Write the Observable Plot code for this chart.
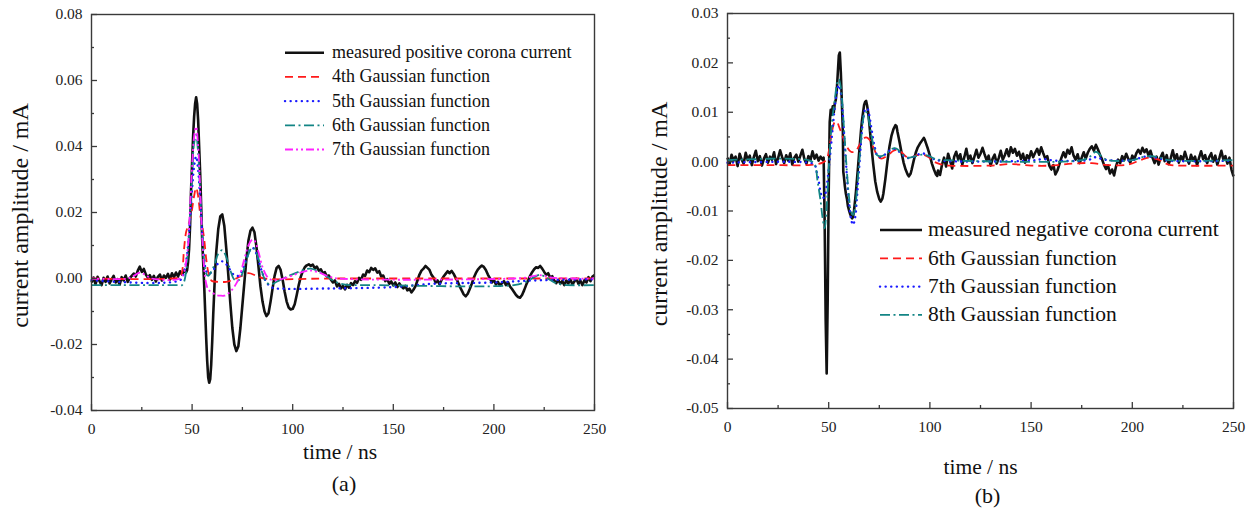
<!DOCTYPE html>
<html><head><meta charset="utf-8">
<script src="https://cdn.jsdelivr.net/npm/d3@7"></script>
<script src="https://cdn.jsdelivr.net/npm/@observablehq/plot@0.6"></script>
<style>
body{margin:0;background:#fff;}
#wrap{position:relative;width:1255px;height:510px;overflow:hidden;background:#fff;}
#wrap > svg, #wrap > figure{position:absolute;top:0;margin:0;overflow:visible;}
</style></head><body><div id="wrap"></div>
<script>
// ---------- DATA (current values in µA, time in ns) ----------
const xTicks = [0, 50, 100, 150, 200, 250];
const xMinor = [25, 75, 125, 175, 225];
const yTicksA = [-0.04, -0.02, 0.00, 0.02, 0.04, 0.06, 0.08];
const yMinorA = [-0.03, -0.01, 0.01, 0.03, 0.05, 0.07];
const yTicksB = [-0.05, -0.04, -0.03, -0.02, -0.01, 0.00, 0.01, 0.02, 0.03];
const yMinorB = [-0.045, -0.035, -0.025, -0.015, -0.005, 0.005, 0.015, 0.025];

const legendA = ["measured positive corona current", "4th Gaussian function", "5th Gaussian function", "6th Gaussian function", "7th Gaussian function"];
const legendB = ["measured negative corona current", "6th Gaussian function", "7th Gaussian function", "8th Gaussian function"];

const posMeasured = [[0,-1.2],[1,0.3],[2,-1.8],[3,0.5],[4,-0.8],[5,-2.0],[6,0.2],[7,-1.0],[8,0.6],[9,-1.5],[10,-0.3],[11,0.8],[12,-1.2],[13,-0.2],[14,-1.9],[15,0.4],[16,-0.6],[17,0.9],[18,-1.0],[19,0.1],[20,0.8],[21,1.5],[22,0.6],[23,2.4],[24,3.6],[25,2.0],[26,2.9],[27,1.2],[28,0.3],[29,1.0],[30,-0.4],[31,0.8],[32,-0.9],[33,0.5],[34,1.2],[35,-0.6],[36,0.9],[37,0.2],[38,1.4],[39,-0.3],[40,1.6],[41,0.4],[42,1.8],[43,0.6],[44,2.2],[45,1.2],[46,2.4],[47,1.8],[47.5,2.5],[48,5],[48.5,9],[49,16],[49.5,27],[50,35],[50.5,43],[51,49],[51.5,53],[52,54.9],[52.5,53],[53,48],[53.5,40],[54,32],[54.5,22],[55,12],[55.5,5],[56,-2],[56.5,-10],[57,-18],[57.5,-25],[58,-30],[58.5,-31.6],[59,-30.5],[59.5,-26],[60,-19],[60.5,-11],[61,-4],[61.5,3],[62,8],[63,15],[64,18.8],[65,19.4],[66,16],[67,9],[68,1],[69,-7.5],[70,-15],[71,-20],[72,-22],[73,-20.5],[74,-15],[75,-8],[76,-1],[77,6],[78,11.5],[79,14.5],[80,15.4],[81,14],[82,9.5],[83,3.5],[84,-2.5],[85,-7],[86,-10],[87,-11.4],[88,-10.5],[89,-7],[90,-3],[91,0.8],[92,3.2],[93,3.8],[94,2.6],[95,-0.4],[96,-4],[97,-7],[98,-8.8],[99,-9.4],[100,-9.2],[101,-7.8],[102,-5],[103,-2],[104,0.5],[105,2.2],[106,3.4],[107,4.0],[108,4.3],[109,3.8],[110,4.2],[111,3.1],[112,3.6],[113,2.4],[114,2.8],[115,1.6],[116,1.9],[117,0.6],[118,0.9],[119,-0.4],[120,-1.2],[121,-0.6],[122,-2.4],[123,-1.6],[124,-3.0],[125,-2.2],[126,-3.3],[127,-1.9],[128,-2.8],[129,-1.4],[130,-2.0],[131,-0.8],[132,-1.3],[133,0.2],[134,-0.4],[135,1.2],[136,0.8],[137,2.4],[138,1.9],[139,3.2],[140,2.6],[141,3.1],[142,1.8],[143,2.2],[144,0.6],[145,0.9],[146,-0.8],[147,-0.2],[148,-1.6],[149,-0.9],[150,-2.1],[151,-1.2],[152,-2.6],[153,-1.5],[154,-2.4],[155,-3.0],[156,-2.2],[157,-3.6],[158,-3.1],[159,-4.2],[160,-3.4],[161,-2.4],[162,-0.6],[163,1.2],[164,2.4],[165,3.0],[166,3.8],[167,3.2],[168,2.6],[169,1.1],[170,0.3],[171,-1.2],[172,-0.6],[173,-1.8],[174,-0.4],[175,0.6],[176,1.4],[177,2.2],[178,1.6],[179,2.3],[180,1.4],[181,0.2],[182,-0.9],[183,-2.4],[184,-3.6],[185,-4.8],[186,-5.4],[187,-4.6],[188,-3.2],[189,-1.6],[190,0.2],[191,1.6],[192,2.7],[193,3.4],[194,3.9],[195,3.5],[196,2.6],[197,1.2],[198,0.1],[199,-1.2],[200,-0.4],[201,-1.8],[202,-1.0],[203,-2.2],[204,-1.4],[205,-0.8],[206,-2.0],[207,-1.1],[208,-2.4],[209,-3.2],[210,-4.1],[211,-5.0],[212,-5.6],[213,-5.8],[214,-5.0],[215,-3.6],[216,-2.0],[217,-0.6],[218,0.8],[219,1.9],[220,2.8],[221,3.4],[222,3.2],[223,3.8],[224,3.0],[225,2.0],[226,1.1],[227,1.6],[228,0.2],[229,0.7],[230,-0.6],[231,-1.4],[232,-0.4],[233,-1.6],[234,-0.8],[235,-2.0],[236,-0.6],[237,-1.5],[238,-0.2],[239,-1.8],[240,-0.9],[241,-0.1],[242,-1.6],[243,-0.7],[244,-2.0],[245,-0.5],[246,-1.2],[247,0.4],[248,-0.8],[249,0.6],[250,1.0]];

const pos4th = [[0,0],[40,0],[44,0.5],[45,2],[46,9],[47,14],[48,16],[49,18],[50,21],[51,25],[52,27.5],[53,25],[54,19.5],[55,16],[56,12],[57,6],[58,2],[59,0],[60,-0.8],[63,-1],[67,-1],[70,-0.5],[74,0.6],[78,1.6],[82,0.8],[86,0],[120,0],[250,0]];
const pos5th = [[0,-0.5],[44,-0.5],[46,2],[47,5],[48,10],[49,18],[50,27],[51,34],[52,37],[53,33],[54,24],[55,14],[56,6],[57,2.2],[58,1.4],[59,1.6],[61,3],[63,4.6],[65,5.2],[67,4.3],[69,2.5],[71,1],[73,0.8],[75,2.5],[77,6],[79,8.8],[80,9.3],[81,8.8],[83,5.5],[85,1.5],[87,-1.2],[90,-2.8],[95,-3.1],[120,-3.0],[150,-2.6],[170,-1.6],[200,-1.2],[220,-0.6],[250,-0.2]];
const pos6th = [[0,-2],[44,-2],[45,-2],[46,-1],[47,2],[48,9],[49,20],[50,32],[51,41],[52,43.5],[53,38],[54,26],[55,14],[56,5],[57,1.5],[58,0.8],[59,1.5],[61,4],[63,7.5],[65,8.6],[67,6.5],[69,2.5],[71,-0.3],[73,-0.6],[75,1.5],[77,5.5],[79,8.8],[80,9.4],[81,9],[83,6],[85,1.5],[87,-1.2],[89,-1.8],[92,-1],[97,0.5],[102,1.8],[107,2.9],[109,3],[112,2.4],[117,0.6],[122,-1.2],[127,-1.9],[140,-2],[210,-2],[216,-1],[220,0.4],[223,1.1],[226,0.3],[230,-1.2],[235,-1.9],[250,-2]];
const pos7th = [[0,0],[18,0],[21,0.8],[24,1.8],[27,1],[30,0],[44,0],[46,2],[47,5],[48,10],[49,22],[50,34],[51,43],[52,46],[53,40],[54,27],[55,13],[56,3],[57,-1.5],[58,-3.3],[60,-4.3],[62,-5],[64,-5.2],[66,-5.2],[68,-4.5],[70,-3.3],[72,-1.5],[74,1.5],[76,6],[78,10],[80,11.8],[81,11.5],[83,8],[85,3.5],[87,0.8],[89,-0.3],[92,-0.5],[97,0.3],[102,1.4],[107,2.3],[109,2.4],[113,1.8],[118,0.6],[123,0],[210,0],[216,0.3],[222,1],[225,0.8],[230,0.2],[250,0]];

const negMeasured = [[0,0.8],[1,-0.6],[2,1.4],[3,0.2],[4,1.0],[5,-0.9],[6,1.6],[7,0.4],[8,-0.4],[9,1.8],[10,0.3],[11,1.2],[12,-0.7],[13,0.9],[14,2.2],[15,0.1],[16,1.1],[17,-0.8],[18,0.6],[19,1.5],[20,-0.2],[21,1.0],[22,0.4],[23,1.9],[24,-0.5],[25,0.7],[26,2.3],[27,0.9],[28,-0.3],[29,1.3],[30,0.2],[31,1.7],[32,-0.6],[33,0.8],[34,1.4],[35,0.0],[36,1.2],[37,2.4],[38,0.5],[39,-0.4],[40,1.1],[41,0.3],[42,2.1],[43,0.6],[44,1.4],[45,0.2],[46,1.0],[47,0.4],[47.5,0.8],[48,-12],[48.5,-32],[49,-42.9],[49.5,-28],[50,-6],[50.5,8],[51,10.5],[51.5,9.5],[52,11.2],[52.5,10],[53,11.8],[53.5,12.5],[54,14.5],[54.5,18],[55,21.5],[55.5,22.1],[56,18],[56.5,12],[57,6],[57.2,-2],[57.5,-3],[58,-5],[58.5,-6.5],[59,-7.5],[59.5,-9],[60,-9.8],[60.5,-10.5],[61,-11],[61.6,-11.5],[62,-11.2],[62.5,-10],[63,-8],[63.5,-6],[64,-3.5],[64.5,-1],[65,1.5],[65.5,4],[66,6.5],[66.5,8.5],[67,10],[67.5,11.5],[68,12.1],[68.5,12.3],[69,11.3],[69.5,10],[70,8],[71,3.5],[72,-0.5],[73,-4],[74,-6.2],[75,-7.6],[75.7,-8.1],[76.5,-7.5],[77,-6.5],[78,-3.5],[79,0],[80,3],[81,5.2],[82,6.6],[83,7.4],[83.5,7.2],[84,6],[85,4],[86,1.8],[87,-0.2],[88,-1.6],[89,-2.6],[89.6,-3],[90.5,-2.4],[91,-1.6],[92,0.2],[93,1.8],[94,2.9],[95,3.6],[96,4.2],[97,4.8],[97.5,4.4],[98,3.8],[99,2.6],[100,1.2],[101,-0.4],[102,-1.6],[103,-2.6],[103.6,-2.9],[104,-1.8],[105,-2.7],[106,-0.6],[107,0.8],[108,-1.0],[109,1.6],[110,0.2],[111,-1.4],[112,1.0],[113,2.0],[114,0.4],[115,1.5],[116,-0.6],[117,0.9],[118,2.6],[119,0.5],[120,1.2],[121,-0.3],[122,1.0],[123,2.4],[124,0.8],[125,1.6],[126,2.8],[127,1.5],[128,0.3],[129,1.2],[130,-0.8],[131,0.6],[132,1.4],[133,-0.4],[134,0.7],[135,2.2],[136,0.4],[137,1.3],[138,2.5],[139,1.1],[140,2.9],[141,1.8],[142,2.6],[143,1.2],[144,2.0],[145,0.5],[146,1.6],[147,-0.2],[148,1.3],[149,0.6],[150,2.1],[151,0.9],[152,1.8],[153,2.6],[154,1.4],[155,2.9],[156,1.7],[157,0.6],[158,1.1],[159,-0.8],[160,-1.6],[161,-0.7],[162,-2.6],[163,-1.8],[164,-0.5],[165,0.8],[166,1.9],[167,0.9],[168,2.4],[169,1.6],[170,2.9],[171,1.2],[172,0.4],[173,1.5],[174,-0.3],[175,0.8],[176,1.9],[177,0.6],[178,1.8],[179,2.6],[180,3.1],[181,2.2],[182,3.4],[183,2.5],[184,1.4],[185,0.5],[186,-0.6],[187,-1.5],[188,-0.8],[189,-2.4],[190,-1.6],[191,-2.8],[192,-0.9],[193,0.4],[194,-0.3],[195,1.1],[196,0.3],[197,1.6],[198,0.6],[199,-0.2],[200,1.2],[201,0.5],[202,1.7],[203,2.4],[204,1.6],[205,2.8],[206,1.9],[207,2.5],[208,1.3],[209,2.2],[210,0.8],[211,-0.3],[212,1.0],[213,-0.6],[214,0.9],[215,1.8],[216,0.1],[217,1.3],[218,-0.5],[219,0.7],[220,2.3],[221,0.4],[222,1.5],[223,-0.2],[224,1.1],[225,0.3],[226,2.0],[227,0.6],[228,-0.4],[229,1.4],[230,0.2],[231,1.0],[232,-0.7],[233,0.8],[234,2.1],[235,0.5],[236,1.3],[237,-0.3],[238,0.9],[239,1.7],[240,0.0],[241,1.2],[242,-0.6],[243,0.7],[244,2.2],[245,0.4],[246,1.1],[247,-0.4],[248,0.8],[249,-1.6],[250,-3.0]];

const neg6th = [[0,-0.7],[20,-0.7],[40,-0.7],[44,-0.5],[47,-0.2],[49,0.5],[50,2],[51,4.5],[52,6.8],[53,8],[54,8.1],[55,7.2],[57,5],[59,3],[61,2],[63,2],[65,3.2],[67,4.6],[68.5,4.9],[70,4.5],[72,3],[74,1.2],[76,0.6],[79,1.2],[82,2.2],[84,2.4],[86,1.9],[88,1.1],[90,0.8],[93,1.2],[96,1.5],[99,1.0],[102,0],[105,-0.5],[110,-0.8],[130,-0.8],[140,-0.5],[150,-0.8],[160,-0.8],[170,-0.4],[180,-0.3],[188,-0.7],[198,-0.6],[204,0.3],[208,0.8],[213,0.4],[218,-0.6],[224,-0.8],[250,-0.8]];
const neg7th = [[0,-0.2],[40,-0.2],[43,-0.6],[44,-2],[45,-3.8],[46,-6.2],[47,-7.4],[48,-7],[49,-5],[50,-1.5],[51,2.5],[52,7],[53,11],[54,14],[55,15.5],[56,14],[57,9.5],[58,3],[59,-3],[60,-8],[61,-11.5],[62,-12.8],[63,-11.5],[64,-7],[65,-1.5],[66,4],[67,8.5],[68,10.5],[69,10.8],[70,9.5],[71,7],[72,4.5],[73,2.5],[74,1.2],[75,0.9],[77,1.2],[80,2.2],[82,2.6],[84,2.3],[86,1.5],[88,0.9],[90,0.7],[93,1.2],[96,1.7],[99,1.3],[102,0.5],[105,0.2],[150,0.2],[156,0.5],[162,0.2],[178,0.3],[182,0.9],[186,0.4],[200,0.3],[206,1.0],[212,0.8],[218,0.2],[250,0.2]];
const neg8th = [[0,0.3],[40,0.3],[43,-0.5],[44.5,-4],[46,-8],[47,-11.5],[48,-13.5],[49,-9],[50,-1.5],[51,5],[52,9.5],[53,12.5],[54,15.5],[55,16.7],[56,15],[57,10],[58,4],[59,-2],[60,-7],[61,-10],[62,-10.8],[63,-9.5],[64,-5.5],[65,-0.5],[66,4.5],[67,8.5],[68,10.1],[69,9.8],[70,8],[71,5.5],[72,3.5],[73,2],[74,1.3],[76,1.1],[79,1.8],[82,2.7],[84,2.5],[86,1.6],[89,0.8],[92,1],[96,1.4],[99,1.2],[103,0.5],[108,0.3],[175,0.3],[179,1],[182,2],[185,1],[188,0.3],[200,0.3],[205,0.9],[209,1.1],[213,0.9],[218,0.3],[250,0.3]];

// ---------- STYLES ----------
const FONT = "Liberation Serif, Times New Roman, serif";
const sMeasured = {stroke: "#111", width: 2.6, dash: null};
const sRed = {stroke: "#ff1a1a", width: 1.8, dash: "8,5"};
const sBlue = {stroke: "#1a1aff", width: 2.4, dash: "0.1,5.5", cap: "round"};
const sTeal = {stroke: "#138585", width: 1.8, dash: "10,3.5,2,3.5"};
const sMag = {stroke: "#ff22ff", width: 1.8, dash: "8,3,2,3,2,3"};

const toMA = d => d[1] / 1000;

function panel(o) {
  const lines = o.series.map(s => Plot.line(s.data, {
    x: d => d[0], y: toMA, stroke: s.style.stroke, strokeWidth: s.style.width,
    strokeDasharray: s.style.dash, strokeLinecap: s.style.cap || "butt",
    curve: s.measured ? "linear" : "catmull-rom"
  }));
  return Plot.plot({
    width: o.width, height: 510,
    marginLeft: o.mL, marginRight: o.mR, marginTop: o.mT, marginBottom: o.mB,
    style: {fontFamily: FONT, background: "transparent", color: "#222", overflow: "visible"},
    x: {domain: [0, 250]},
    y: {domain: o.yDomain},
    marks: [
      ...lines,
      Plot.frame({stroke: "#3a3a3a", strokeWidth: 1.4}),
      Plot.axisX({ticks: xTicks, tickSize: -6, fill: "none", label: null, stroke: "#3a3a3a", strokeWidth: 1.3}),
      Plot.axisX({ticks: xMinor, tickSize: -3, fill: "none", label: null, stroke: "#3a3a3a", strokeWidth: 1.3}),
      Plot.axisX({ticks: xTicks, tickSize: 0, tickPadding: 12, fontSize: 15.5, label: null, tickFormat: d => String(d)}),
      Plot.axisY({ticks: o.yTicks, tickSize: -6, fill: "none", label: null, stroke: "#3a3a3a", strokeWidth: 1.3}),
      Plot.axisY({ticks: o.yMinor, tickSize: -3, fill: "none", label: null, stroke: "#3a3a3a", strokeWidth: 1.3}),
      Plot.axisY({ticks: o.yTicks, tickSize: 0, tickPadding: 9, fontSize: 15.5, label: null, tickFormat: d => d.toFixed(2)}),
      Plot.text([o.xTitle], {frameAnchor: "bottom", textAnchor: "middle", lineAnchor: "middle", dy: o.xTitleDy, dx: o.xTitleDx, fontSize: 21.5, fill: "#111"}),
      Plot.text([o.yTitle], {frameAnchor: "left", textAnchor: "middle", lineAnchor: "middle", dx: o.yTitleDx, dy: 3, rotate: -90, fontSize: 24, fill: "#111"}),
      Plot.text([o.caption], {frameAnchor: "bottom", textAnchor: "middle", lineAnchor: "middle", dy: o.capDy, dx: o.capDx, fontSize: 22, fill: "#111"})
    ]
  });
}

const wrap = document.getElementById("wrap");

const left = panel({
  width: 627, mL: 91, mR: 33, mT: 14, mB: 100,
  yDomain: [-0.04, 0.08], yTicks: yTicksA, yMinor: yMinorA,
  xTitle: "time / ns", yTitle: "current amplitude / mA", caption: "(a)",
  xTitleDy: 42, xTitleDx: -3, yTitleDx: -71, capDy: 73, capDx: 1,
  series: [
    {data: posMeasured, style: sMeasured, measured: true},
    {data: pos4th, style: sRed}, {data: pos5th, style: sBlue},
    {data: pos6th, style: sTeal}, {data: pos7th, style: sMag}
  ]
});
left.style.left = "0px";
wrap.appendChild(left);

const right = panel({
  width: 628, mL: 100, mR: 22, mT: 13, mB: 102,
  yDomain: [-0.05, 0.03], yTicks: yTicksB, yMinor: yMinorB,
  xTitle: "time / ns", yTitle: "current amplitude / mA", caption: "(b)",
  xTitleDy: 59, xTitleDx: 0, yTitleDx: -68, capDy: 87, capDx: 7,
  series: [
    {data: negMeasured, style: sMeasured, measured: true},
    {data: neg6th, style: sRed}, {data: neg7th, style: sBlue}, {data: neg8th, style: sTeal}
  ]
});
right.style.left = "627px";
wrap.appendChild(right);

// ---------- LEGENDS ----------
const ov = d3.select(wrap).append("svg")
  .attr("width", 1255).attr("height", 510)
  .style("position", "absolute").style("left", 0).style("top", 0)
  .style("pointer-events", "none");

function legend(names, styles, x0, x1, xt, y0, step, fs) {
  names.forEach((name, i) => {
    const y = y0 + i * step, s = styles[i];
    ov.append("line").attr("x1", x0).attr("x2", x1).attr("y1", y).attr("y2", y)
      .attr("stroke", s.stroke).attr("stroke-width", s.width)
      .attr("stroke-dasharray", s.dash).attr("stroke-linecap", s.cap || "butt");
    ov.append("text").attr("x", xt).attr("y", y + fs * 0.3)
      .attr("font-family", FONT).attr("font-size", fs).attr("fill", "#111")
      .text(name);
  });
}
legend(legendA, [sMeasured, sRed, sBlue, sTeal, sMag], 285, 324, 332, 52.7, 24.2, 18);
legend(legendB, [sMeasured, sRed, sBlue, sTeal], 880, 922, 928, 230, 28.3, 21.5);
</script>
</body></html>
